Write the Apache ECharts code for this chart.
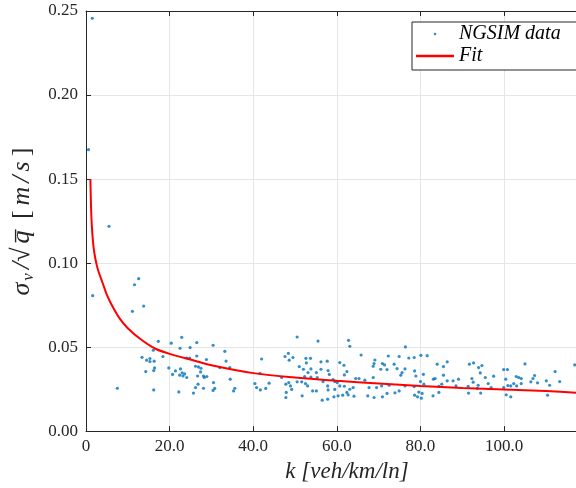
<!DOCTYPE html>
<html>
<head>
<meta charset="utf-8">
<script src="https://cdn.jsdelivr.net/npm/echarts@6/dist/echarts.min.js"></script>
<style>html,body{margin:0;padding:0;background:#fff}#c{width:576px;height:488px}</style>
</head>
<body>
<div id="c"></div>
<script>
// NGSIM scatter data: density k [veh/km/ln] and sigma_v/sqrt(q) [m/s]
const ngsimK = [1.5,0.6,1.6,5.5,12.6,11.6,13.8,11.1,
17.3,22.9,20.4,22.5,24.9,16.1,13.4,14.5,15.3,15.3,16.3,18.4,24.1,24.8,16.4,16.2,14.3,19.8,21.4,22.6,23.0,23.6,22.4,23.2,24.1,20.7,7.5,16.2,22.2,25.7,
26.5,30.4,33.2,26.5,28.8,33.5,26.2,26.9,27.5,27.4,32.0,34.4,26.7,28.1,28.9,28.3,34.5,30.5,26.8,26.2,28.1,30.8,35.6,35.3,30.4,42.0,40.4,40.8,41.7,43.0,43.8,41.6,47.6,48.4,46.8,47.8,48.5,47.9,47.8,
50.5,55.5,62.8,63.1,65.8,49.5,48.6,52.6,53.7,52.7,56.2,57.7,60.7,51.0,52.0,53.8,56.2,57.9,61.7,62.4,53.1,55.1,58.2,61.8,52.3,53.8,55.3,68.7,69.1,68.9,70.9,71.4,68.7,64.5,65.3,59.1,59.5,60.1,56.7,57.8,50.5,51.6,52.5,53.0,48.9,49.2,54.2,55.1,57.9,59.5,60.7,61.8,63.1,63.9,62.4,61.4,60.3,59.3,57.8,56.5,51.7,62.7,64.1,67.4,68.9,67.7,69.5,70.7,66.7,
76.4,72.3,74.9,77.2,78.5,80.1,81.6,86.4,84.0,85.5,73.7,70.5,72.0,74.4,76.3,75.6,75.3,78.6,78.9,80.7,91.7,92.7,93.9,83.1,83.5,85.5,86.4,87.8,89.1,85.1,84.4,88.5,92.3,92.6,93.8,91.4,80.0,80.8,78.5,76.3,72.5,72.0,73.9,74.9,70.9,78.6,79.6,80.4,79.3,80.2,83.0,84.4,91.5,93.6,
105.0,94.7,94.3,99.9,100.8,97.5,95.5,100.4,102.9,103.5,104.1,107.3,106.9,112.2,113.3,110.1,110.9,106.4,108.0,104.1,103.0,102.3,100.9,101.6,99.9,96.2,96.9,94.4,100.5,101.6,110.4,116.9];
const ngsimV = [0.2457,0.1675,0.0806,0.1219,0.0907,0.0871,0.0744,0.0713,
0.0534,0.0558,0.0523,0.0493,0.0497,0.0481,0.0439,0.0422,0.0432,0.0414,0.0416,0.0444,0.0435,0.0435,0.0376,0.0360,0.0354,0.0376,0.0358,0.0370,0.0346,0.0340,0.0333,0.0328,0.0319,0.0337,0.0255,0.0245,0.0233,0.0226,
0.0527,0.0511,0.0475,0.0447,0.0426,0.0417,0.0386,0.0382,0.0374,0.0352,0.0378,0.0378,0.0328,0.0328,0.0325,0.0319,0.0309,0.0289,0.0279,0.0259,0.0255,0.0254,0.0255,0.0239,0.0242,0.0429,0.0283,0.0259,0.0245,0.0254,0.0285,0.0343,0.0444,0.0463,0.0319,0.0279,0.0289,0.0230,0.0200,
0.0560,0.0536,0.0540,0.0505,0.0453,0.0438,0.0422,0.0433,0.0433,0.0406,0.0412,0.0416,0.0408,0.0384,0.0368,0.0370,0.0368,0.0360,0.0392,0.0354,0.0348,0.0348,0.0337,0.0334,0.0325,0.0322,0.0319,0.0386,0.0423,0.0402,0.0402,0.0394,0.0319,0.0313,0.0313,0.0307,0.0295,0.0289,0.0295,0.0269,0.0293,0.0293,0.0283,0.0269,0.0269,0.0248,0.0239,0.0239,0.0245,0.0248,0.0269,0.0267,0.0249,0.0259,0.0230,0.0214,0.0210,0.0204,0.0190,0.0184,0.0210,0.0216,0.0208,0.0210,0.0200,0.0259,0.0259,0.0269,0.0303,
0.0501,0.0447,0.0444,0.0435,0.0438,0.0451,0.0449,0.0412,0.0398,0.0384,0.0398,0.0368,0.0366,0.0372,0.0370,0.0348,0.0333,0.0358,0.0328,0.0338,0.0398,0.0406,0.0378,0.0309,0.0313,0.0333,0.0299,0.0299,0.0309,0.0279,0.0267,0.0269,0.0313,0.0291,0.0273,0.0267,0.0295,0.0279,0.0265,0.0269,0.0273,0.0224,0.0228,0.0239,0.0204,0.0214,0.0232,0.0224,0.0204,0.0196,0.0210,0.0230,0.0226,0.0254,
0.0400,0.0390,0.0346,0.0366,0.0366,0.0327,0.0319,0.0309,0.0325,0.0319,0.0313,0.0331,0.0313,0.0354,0.0295,0.0299,0.0273,0.0293,0.0287,0.0283,0.0269,0.0283,0.0271,0.0269,0.0259,0.0283,0.0259,0.0226,0.0216,0.0204,0.0214,0.0394];

// Fit curve
const fitK = [1.05,1.2,1.4,1.7,2.0,2.5,3.0,4.0,5.0,6.0,8.0,10,13,16.6,20.6,25.4,30,40,50,60,70,80,90,100,110,118];
const fitV = [0.150,0.134,0.122,0.112,0.106,0.0995,0.095,0.088,0.081,0.0758,0.0672,0.0612,0.0548,0.0490,0.0455,0.0423,0.0392,0.0345,0.0319,0.0299,0.0283,0.0268,0.0257,0.0248,0.0238,0.0227];

const xTickStep = 20;
const yTickStep = 0.05;

const scatterData = ngsimK.map((k, i) => [k, ngsimV[i]]);
const fitData = fitK.map((k, i) => [k, fitV[i]]);

const serif = 'Liberation Serif';
const axisColor = '#262626';
const chart = echarts.init(document.getElementById('c'), null, {renderer: 'canvas'});
chart.setOption({
  animation: false,
  backgroundColor: '#fff',
  grid: {left: 86, right: 0, top: 11, bottom: 56},
  legend: {
    orient: 'vertical', left: 412, top: 22,
    backgroundColor: '#fff', borderColor: axisColor, borderWidth: 1, borderRadius: 0,
    padding: [2, 30, 4, 4], itemGap: 2, itemWidth: 38, itemHeight: 2.6,
    textStyle: {fontFamily: serif, fontStyle: 'italic', fontSize: 20, color: '#000'},
    data: [{name: 'NGSIM data', icon: 'circle'}, {name: 'Fit', icon: 'rect'}]
  },
  xAxis: [{
    type: 'value', min: 0, max: 117.2, interval: xTickStep,
    name: 'k [veh/km/ln]', nameLocation: 'middle', nameGap: 22,
    nameTextStyle: {fontFamily: serif, fontStyle: 'italic', fontSize: 23, color: '#262626', padding: [0, 0, 0, 32]},
    axisLine: {show: true, lineStyle: {color: axisColor, width: 1}},
    axisTick: {show: true, inside: true, length: 5, lineStyle: {color: axisColor}},
    axisLabel: {fontFamily: serif, fontSize: 17, color: '#262626', margin: 7, showMaxLabel: false,
      formatter: v => v === 0 ? '0' : v.toFixed(1)},
    splitLine: {show: true, lineStyle: {color: '#e6e6e6', width: 1}}
  }, {
    type: 'value', position: 'top', min: 0, max: 117.2, interval: xTickStep,
    axisLine: {show: true, lineStyle: {color: axisColor, width: 1}},
    axisTick: {show: true, inside: true, length: 5, lineStyle: {color: axisColor}},
    axisLabel: {show: false}, splitLine: {show: false}
  }],
  yAxis: {
    type: 'value', min: 0, max: 0.25, interval: yTickStep,
    name: '{a|σ}{s|v}{a|/√}{a|q̅}{b| [}{a|m}{a|/}{a|s}{b|]}', nameLocation: 'middle', nameGap: 37,
    nameTextStyle: {
      fontFamily: serif, fontSize: 26, color: '#262626',
      rich: {
        a: {fontFamily: serif, fontStyle: 'italic', fontSize: 26, color: '#262626', padding: [0, 2, 0, 2]},
        b: {fontFamily: serif, fontSize: 26, color: '#262626', padding: [0, 3, 0, 3]},
        s: {fontFamily: serif, fontStyle: 'italic', fontSize: 17, color: '#262626', verticalAlign: 'bottom', padding: [13, 2, 0, 0]}
      }
    },
    axisLine: {show: true, lineStyle: {color: axisColor, width: 1}},
    axisTick: {show: true, inside: true, length: 5, lineStyle: {color: axisColor}},
    axisLabel: {fontFamily: serif, fontSize: 17, color: '#262626', margin: 8, formatter: v => v.toFixed(2)},
    splitLine: {show: true, lineStyle: {color: '#e6e6e6', width: 1}}
  },
  series: [{
    name: 'NGSIM data', type: 'scatter', data: scatterData,
    symbol: 'circle', symbolSize: 3.2,
    itemStyle: {color: '#0072BD'}, z: 3
  }, {
    name: 'Fit', type: 'line', data: fitData, smooth: 0.3,
    symbol: 'none', showSymbol: false,
    lineStyle: {color: '#ff0000', width: 2}, itemStyle: {color: '#ff0000'}, z: 4
  }]
});
</script>
</body>
</html>
